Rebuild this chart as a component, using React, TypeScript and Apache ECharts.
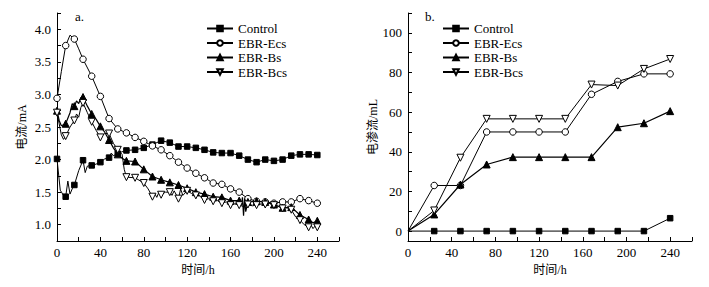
import React, { useEffect, useRef } from 'react';
import * as echarts from 'echarts';

// ---------- Panel a: current (mA) vs time (h) ----------
const controlCurrent: [number, number][] = [
  [0, 2.01], [3, 1.53], [6, 1.45], [8, 1.43], [10, 1.67], [12, 1.47], [14, 1.55], [16, 1.61],
  [20, 1.83], [24, 1.99], [26, 1.8], [28, 1.9], [32, 1.91], [36, 1.93], [40, 1.96], [44, 2.01],
  [48, 2.03], [50, 2.1], [52, 2.06], [56, 2.09], [60, 2.12], [64, 2.14], [72, 2.15], [80, 2.18],
  [88, 2.23], [96, 2.29], [104, 2.26], [112, 2.2], [120, 2.2], [128, 2.18], [136, 2.15], [144, 2.11],
  [152, 2.1], [160, 2.1], [168, 2.06], [176, 2.0], [184, 1.96], [192, 2.0], [200, 1.98], [208, 2.0],
  [216, 2.06], [224, 2.08], [232, 2.08], [240, 2.07],
];
const ecsCurrent: [number, number][] = [
  [0, 2.94], [4, 3.35], [8, 3.75], [12, 3.91], [16, 3.85], [20, 3.7], [24, 3.54], [32, 3.28],
  [40, 2.97], [48, 2.63], [56, 2.47], [64, 2.41], [72, 2.34], [80, 2.28], [88, 2.21], [96, 2.15],
  [104, 2.06], [112, 1.96], [120, 1.87], [128, 1.79], [136, 1.72], [144, 1.64], [152, 1.62], [160, 1.55],
  [168, 1.5], [176, 1.4], [184, 1.36], [192, 1.35], [200, 1.33], [208, 1.35], [216, 1.35], [224, 1.4],
  [232, 1.37], [240, 1.33],
];
const bsCurrent: [number, number][] = [
  [0, 2.75], [2, 2.6], [4, 2.52], [8, 2.55], [12, 2.72], [14, 2.86], [16, 2.82], [18, 2.9],
  [20, 2.86], [22, 2.95], [24, 2.96], [28, 2.82], [32, 2.7], [36, 2.62], [40, 2.51], [44, 2.42],
  [48, 2.3], [52, 2.18], [56, 2.08], [60, 2.02], [64, 1.98], [72, 1.97], [80, 1.85], [88, 1.74],
  [96, 1.69], [104, 1.65], [112, 1.61], [120, 1.56], [128, 1.5], [136, 1.47], [144, 1.43], [152, 1.42],
  [160, 1.37], [168, 1.37], [170, 1.3], [171, 1.42], [172, 1.14], [173, 1.4], [174, 1.2], [176, 1.35],
  [184, 1.36], [192, 1.35], [200, 1.31], [208, 1.26], [216, 1.27], [224, 1.15], [232, 1.08], [236, 1.03],
  [240, 1.06],
];
const bcsCurrent: [number, number][] = [
  [0, 2.72], [2, 2.55], [4, 2.38], [6, 2.31], [8, 2.36], [12, 2.5], [16, 2.6], [18, 2.7],
  [20, 2.65], [22, 2.8], [24, 2.87], [28, 2.72], [32, 2.58], [36, 2.45], [40, 2.34], [44, 2.4],
  [48, 2.4], [52, 2.25], [56, 2.15], [60, 2.08], [62, 1.85], [64, 1.73], [72, 1.72], [80, 1.64],
  [84, 1.55], [88, 1.43], [90, 1.48], [92, 1.42], [94, 1.5], [96, 1.46], [100, 1.5], [104, 1.5],
  [106, 1.45], [108, 1.52], [112, 1.4], [114, 1.55], [116, 1.45], [120, 1.52], [124, 1.48], [128, 1.45],
  [132, 1.44], [136, 1.38], [140, 1.4], [144, 1.36], [148, 1.37], [152, 1.33], [156, 1.35], [160, 1.3],
  [164, 1.32], [168, 1.3], [172, 1.28], [176, 1.31], [180, 1.29], [184, 1.3], [188, 1.32], [192, 1.31],
  [196, 1.33], [200, 1.3], [204, 1.28], [208, 1.25], [212, 1.26], [216, 1.23], [220, 1.12], [224, 1.07],
  [228, 1.0], [232, 0.96], [234, 1.0], [236, 0.94], [238, 0.98], [240, 0.96],
];

// ---------- Panel b: electro-osmotic flow (mL) vs time (h) ----------
const hoursB = [0, 24, 48, 72, 96, 120, 144, 168, 192, 216, 240];
const controlFlow = [0, 0, 0, 0, 0, 0, 0, 0, 0, 0, 6.5];
const ecsFlow = [0, 23, 23, 50, 50, 50, 50, 69, 75.5, 79.3, 79.3];
const bsFlow = [0, 8.4, 23.5, 33.6, 37.3, 37.3, 37.3, 37.3, 52.4, 54.4, 60.5];
const bcsFlow = [0, 10.4, 37, 56.6, 56.6, 56.6, 56.6, 73.9, 73.4, 81.8, 86.8];

const seriesNames = ['Control', 'EBR-Ecs', 'EBR-Bs', 'EBR-Bcs'];
const currentTicksY = [1.0, 1.5, 2.0, 2.5, 3.0, 3.5, 4.0];
const flowTicksY = [0, 20, 40, 60, 80, 100];
const timeTicks = [0, 40, 80, 120, 160, 200, 240];

const FONT = '"Liberation Serif", "Times New Roman", "Noto Sans CJK SC", serif';
const MARKER_STEP = 8;

type Style = { symbol: string; size: number; filled: boolean; rotate: number; width: number };
const styles: Style[] = [
  { symbol: 'rect', size: 5.5, filled: true, rotate: 0, width: 1 },
  { symbol: 'circle', size: 6.5, filled: false, rotate: 0, width: 1 },
  { symbol: 'triangle', size: 7, filled: true, rotate: 0, width: 1.2 },
  { symbol: 'triangle', size: 7, filled: false, rotate: 180, width: 1 },
];

function makeSeries(idx: number, data: any[], axis: number) {
  const s = styles[idx];
  return {
    type: 'line',
    name: seriesNames[idx],
    xAxisIndex: axis,
    yAxisIndex: axis,
    data,
    symbol: s.symbol,
    symbolSize: s.size,
    symbolRotate: s.rotate,
    showSymbol: true,
    lineStyle: { color: '#000', width: s.width },
    itemStyle: { color: s.filled ? '#000' : '#fff', borderColor: '#000', borderWidth: 1 },
    emphasis: { disabled: true },
    silent: true,
    z: 2 + idx,
  };
}

function panelA(points: [number, number][]) {
  return points.map(([h, v]) =>
    h % MARKER_STEP === 0 ? { value: [h, v] } : { value: [h, v], symbol: 'none' }
  );
}

function panelB(values: number[]) {
  return hoursB.map((h, i) =>
    h === 0 ? { value: [h, values[i]], symbol: 'none' } : { value: [h, values[i]] }
  );
}

const labelTextStyle = { color: '#000', fontFamily: FONT, fontSize: 13 };
const nameTextStyle = { color: '#000', fontFamily: FONT, fontSize: 12 };

function xAxis(grid: number) {
  return {
    type: 'value',
    gridIndex: grid,
    min: 0,
    max: 260,
    minInterval: 20,
    maxInterval: 20,
    splitNumber: 13,
    axisLine: { show: true, onZero: false, lineStyle: { color: '#000', width: 1 } },
    axisTick: { show: true, inside: true, length: 4, lineStyle: { color: '#000', width: 1 } },
    axisLabel: {
      ...labelTextStyle,
      margin: 5,
      formatter: (v: number) => (timeTicks.includes(Math.round(v)) ? String(Math.round(v)) : ''),
    },
    splitLine: { show: false },
    name: '时间/h',
    nameLocation: 'middle',
    nameGap: 21,
    nameTextStyle,
  };
}

export default function App() {
  const ref = useRef<HTMLDivElement>(null);
  useEffect(() => {
    if (!ref.current) return;
    const chart = echarts.init(ref.current, undefined, { renderer: 'svg' });
    const legendBase = {
      orient: 'vertical',
      top: 17,
      itemWidth: 26,
      itemHeight: 7,
      itemGap: 1.5,
      data: seriesNames,
      textStyle: { color: '#000', fontFamily: FONT, fontSize: 13 },
      selectedMode: false,
    };
    chart.setOption({
      animation: false,
      backgroundColor: '#fff',
      grid: [
        { left: 57, top: 13, width: 282, height: 228 },
        { left: 408, top: 13, width: 284, height: 228 },
      ],
      legend: [
        { ...legendBase, left: 201 },
        { ...legendBase, left: 437 },
      ],
      xAxis: [xAxis(0), xAxis(1)],
      yAxis: [
        {
          type: 'value',
          gridIndex: 0,
          min: 0.75,
          max: 4.25,
          minInterval: 0.25,
          maxInterval: 0.25,
          splitNumber: 14,
          axisLine: { show: true, onZero: false, lineStyle: { color: '#000', width: 1 } },
          axisTick: { show: true, inside: true, length: 4, lineStyle: { color: '#000', width: 1 } },
          axisLabel: {
            ...labelTextStyle,
            margin: 6,
            formatter: (v: number) =>
              currentTicksY.some((t) => Math.abs(t - v) < 1e-6) ? v.toFixed(1) : '',
          },
          splitLine: { show: false },
          name: '电流/mA',
          nameLocation: 'middle',
          nameGap: 29,
          nameRotate: 90,
          nameTextStyle,
        },
        {
          type: 'value',
          gridIndex: 1,
          min: -5,
          max: 110,
          minInterval: 10,
          maxInterval: 10,
          splitNumber: 11,
          axisLine: { show: true, onZero: false, lineStyle: { color: '#000', width: 1 } },
          axisTick: { show: true, inside: true, length: 4, lineStyle: { color: '#000', width: 1 } },
          axisLabel: {
            ...labelTextStyle,
            margin: 6,
            formatter: (v: number) =>
              flowTicksY.some((t) => Math.abs(t - v) < 1e-6) ? String(Math.round(v)) : '',
          },
          splitLine: { show: false },
          name: '电渗流/mL',
          nameLocation: 'middle',
          nameGap: 28,
          nameRotate: 90,
          nameTextStyle,
        },
      ],
      graphic: [
        { type: 'text', left: 75, top: 10, style: { text: 'a.', fontSize: 13, fontFamily: FONT, fill: '#000' } },
        { type: 'text', left: 425, top: 10, style: { text: 'b.', fontSize: 13, fontFamily: FONT, fill: '#000' } },
      ],
      series: [
        makeSeries(0, panelA(controlCurrent), 0),
        makeSeries(1, panelA(ecsCurrent), 0),
        makeSeries(2, panelA(bsCurrent), 0),
        makeSeries(3, panelA(bcsCurrent), 0),
        makeSeries(0, panelB(controlFlow), 1),
        makeSeries(1, panelB(ecsFlow), 1),
        makeSeries(2, panelB(bsFlow), 1),
        makeSeries(3, panelB(bcsFlow), 1),
      ],
    });
    return () => chart.dispose();
  }, []);
  return (
    <div
      ref={ref}
      style={{ position: 'absolute', left: 0, top: 0, width: 709, height: 287, background: '#fff' }}
    />
  );
}
